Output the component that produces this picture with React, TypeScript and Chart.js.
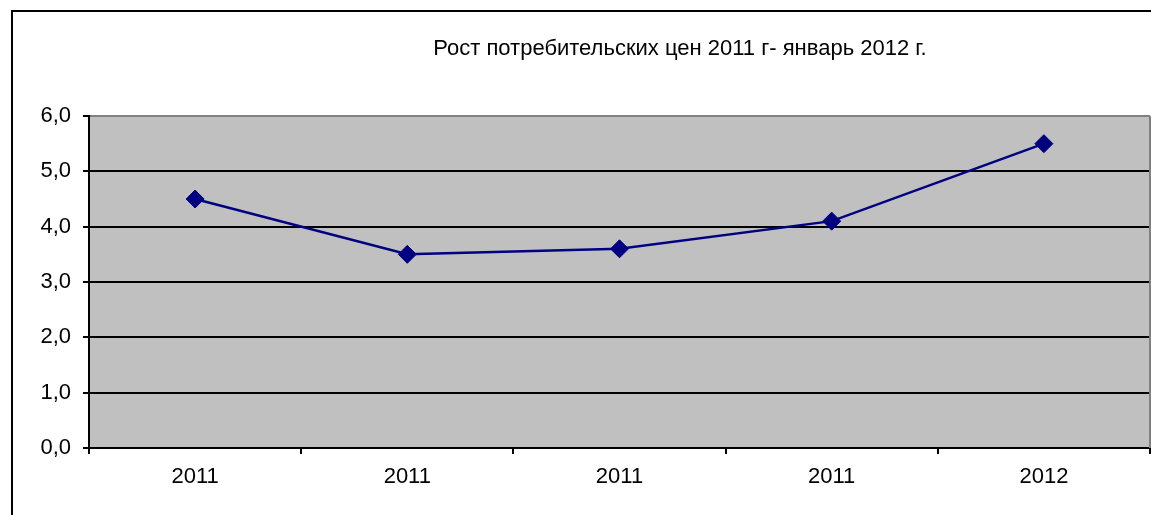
import React, { useEffect, useRef } from "react";
import { Chart, registerables } from "chart.js";

Chart.register(...registerables);

const titleText = "Рост потребительских цен 2011 г- январь 2012 г.";
const categories = ["2011", "2011", "2011", "2011", "2012"];
const priceGrowth = [4.5, 3.5, 3.6, 4.1, 5.5];
const yMin = 0;
const yMax = 6;
const yStep = 1;

const FONT = '"Liberation Sans", Arial, sans-serif';

const framePlugin = {
  id: "frame",
  beforeDraw(chart: any) {
    const { ctx, chartArea, width, height } = chart;
    ctx.save();
    ctx.fillStyle = "#ffffff";
    ctx.fillRect(0, 0, width, height);
    ctx.fillStyle = "#000000";
    ctx.fillRect(11, 10, width - 11, 2);
    ctx.fillRect(11, 10, 2, height - 10);
    ctx.fillStyle = "#C0C0C0";
    ctx.fillRect(chartArea.left, chartArea.top, chartArea.right - chartArea.left, chartArea.bottom - chartArea.top);
    ctx.restore();
  },
  beforeDatasetsDraw(chart: any) {
    const { ctx, chartArea } = chart;
    ctx.save();
    ctx.strokeStyle = "#808080";
    ctx.lineWidth = 2;
    ctx.beginPath();
    ctx.moveTo(chartArea.right, chartArea.top);
    ctx.lineTo(chartArea.right, chartArea.bottom);
    ctx.stroke();
    ctx.restore();
  },
  afterDraw(chart: any) {
    const { ctx } = chart;
    ctx.save();
    ctx.fillStyle = "#000000";
    ctx.font = `22px ${FONT}`;
    ctx.textAlign = "center";
    ctx.textBaseline = "middle";
    ctx.fillText(titleText, 680, 49);
    ctx.restore();
  },
};

export default function App() {
  const canvasRef = useRef<HTMLCanvasElement | null>(null);

  useEffect(() => {
    if (!canvasRef.current) return;
    const chart = new Chart(canvasRef.current, {
      type: "line",
      data: {
        labels: categories,
        datasets: [
          {
            label: titleText,
            data: priceGrowth,
            borderColor: "#000080",
            backgroundColor: "#000080",
            borderWidth: 2.5,
            pointStyle: "rectRot",
            pointRadius: 9,
            pointBorderWidth: 1,
            pointBackgroundColor: "#000080",
            pointBorderColor: "#000080",
            tension: 0,
            clip: false,
          },
        ],
      },
      options: {
        animation: false,
        responsive: false,
        layout: { autoPadding: false, padding: { top: 116, right: 1, left: 0, bottom: 0 } },
        plugins: {
          legend: { display: false },
          title: { display: false },
          tooltip: { enabled: false },
        },
        scales: {
          x: {
            offset: true,
            afterFit: (scale: any) => {
              scale.height = 67;
              scale.paddingLeft = 0;
              scale.paddingRight = 0;
            },
            grid: {
              offset: true,
              drawOnChartArea: false,
              drawTicks: true,
              tickLength: 6,
              color: "#000000",
              lineWidth: 2,
            },
            border: { display: true, color: "#000000", width: 2 },
            ticks: {
              color: "#000000",
              font: { family: FONT, size: 22 },
              padding: 10,
              maxRotation: 0,
              autoSkip: false,
            },
          },
          y: {
            min: yMin,
            max: yMax,
            afterFit: (scale: any) => {
              scale.width = 89;
            },
            grid: {
              color: (c: any) => (c.tick && c.tick.value === yMax ? "#808080" : "#000000"),
              tickColor: "#000000",
              lineWidth: 2,
              drawTicks: true,
              tickLength: 6,
            },
            border: { display: true, color: "#000000", width: 2 },
            ticks: {
              stepSize: yStep,
              color: "#000000",
              font: { family: FONT, size: 22 },
              padding: 12,
              callback: (v: any) => Number(v).toFixed(1).replace(".", ","),
            },
          },
        },
      },
      plugins: [framePlugin],
    });
    return () => chart.destroy();
  }, []);

  return (
    <div style={{ position: "absolute", left: 0, top: 0, width: 1151, height: 515 }}>
      <canvas ref={canvasRef} width={1151} height={515} style={{ display: "block" }} />
    </div>
  );
}
